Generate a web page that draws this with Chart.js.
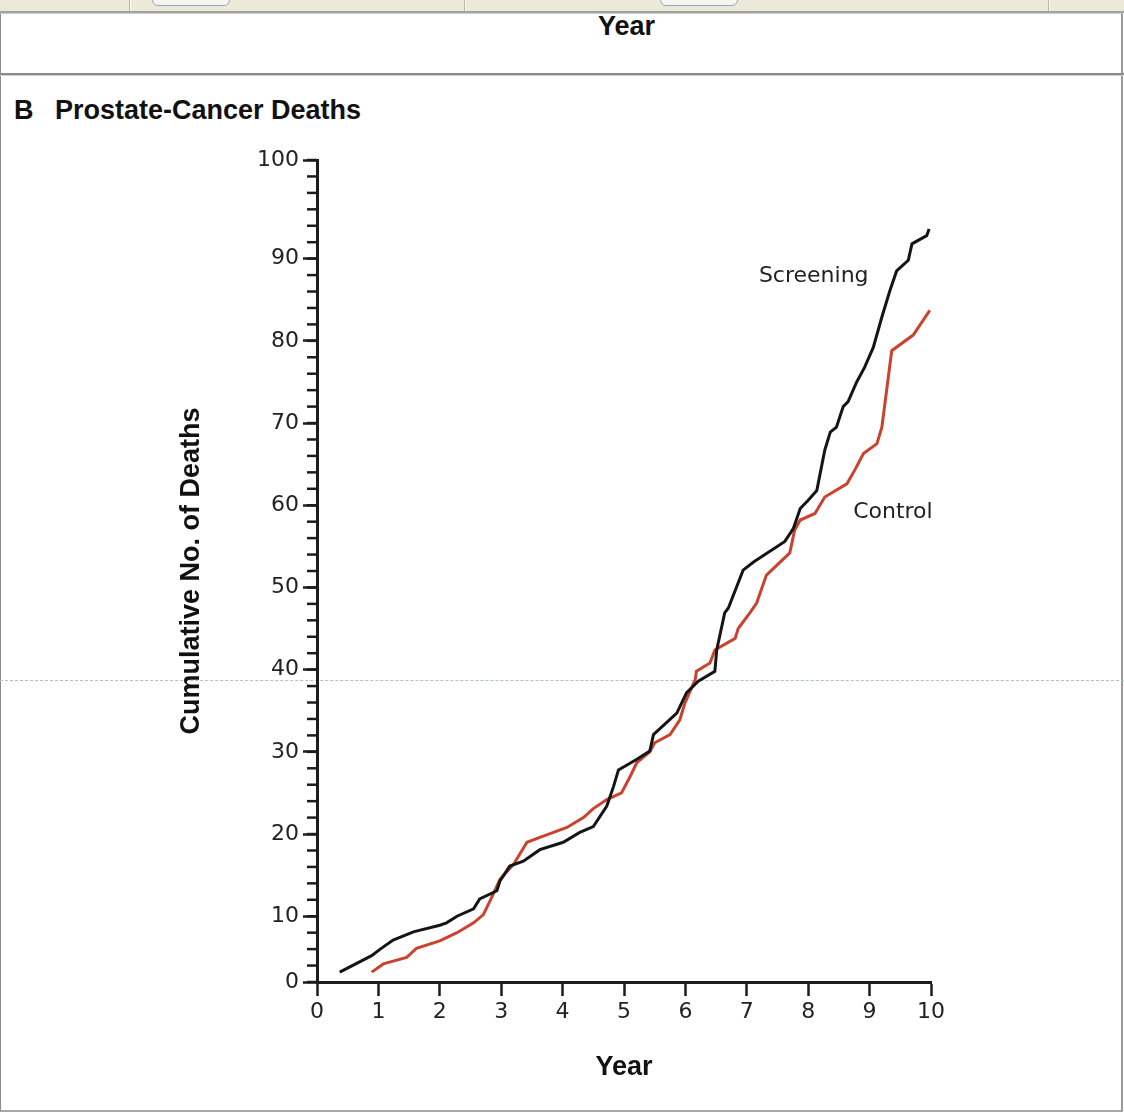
<!DOCTYPE html>
<html>
<head>
<meta charset="utf-8">
<script src="https://cdn.jsdelivr.net/npm/chart.js@4.4.0/dist/chart.umd.min.js"></script>
<style>
  html, body { margin: 0; padding: 0; background: #fff; }
  body { width: 1124px; height: 1113px; position: relative; overflow: hidden; font-family: "Liberation Sans", Arial, sans-serif; }
  .toolbar { position: absolute; left: 0; top: 0; width: 1124px; height: 11px; background: #ece9d8; border-bottom: 2px solid #a3a29c; }
  .toolbar .sep { position: absolute; top: 0; width: 1px; height: 11px; background: #b9b6a6; border-right: 1px solid #fbfaf4; }
  .toolbar .btn { position: absolute; top: -12px; width: 76px; height: 16px; border: 1px solid #90a8c8; border-radius: 6px; background: #f6f5f0; }
  .frame { position: absolute; left: 0; top: 13px; width: 1120px; height: 1096px; border-left: 1px solid #8c8c8c; border-right: 2px solid #9a9a9a; border-bottom: 2px solid #a6a6a6; border-top: 1px solid #cfcfcf; }
  .rule { position: absolute; left: 0; top: 73px; width: 1124px; height: 2px; background: #8a8a8a; border-bottom: 1px solid #d0d0d0; }
  .scanline { position: absolute; left: 0; top: 680px; width: 1124px; border-top: 1px dashed #a9bfe2; }
  .bold { position: absolute; font-weight: bold; font-size: 27px; line-height: 27px; color: #111; white-space: nowrap; }
  #wrap { position: absolute; left: 2px; top: 80px; }
</style>
</head>
<body>
<div class="toolbar">
  <div class="sep" style="left:129px"></div>
  <div class="sep" style="left:464px"></div>
  <div class="sep" style="left:1048px"></div>
  <div class="btn" style="left:152px"></div>
  <div class="btn" style="left:660px"></div>
</div>
<div class="frame"></div>
<div class="bold" style="left:598px; top:13px;">Year</div>
<div class="rule"></div>
<div class="bold" style="left:14px; top:97px;">B</div>
<div class="bold" style="left:55px; top:97px;">Prostate-Cancer Deaths</div>
<div class="scanline"></div>
<div id="wrap"><canvas id="deathsChart" width="1118" height="1028"></canvas></div>
<script>
// Cumulative prostate-cancer deaths
const screeningYears = [0.37, 0.89, 1.03, 1.24, 1.57, 2.0, 2.11, 2.28, 2.55, 2.65, 2.93, 2.98, 3.14, 3.36, 3.63, 4.01, 4.28, 4.5, 4.72, 4.83, 4.91, 5.21, 5.42, 5.45, 5.48, 5.86, 6.02, 6.21, 6.48, 6.51, 6.64, 6.70, 6.94, 7.11, 7.62, 7.76, 7.87, 8.0, 8.14, 8.27, 8.36, 8.46, 8.57, 8.65, 8.79, 8.92, 9.06, 9.2, 9.33, 9.44, 9.63, 9.69, 9.93, 9.97];
const screeningDeaths = [3.2, 5.2, 6.0, 7.1, 8.1, 8.9, 9.2, 10.0, 10.9, 12.1, 13.1, 14.3, 16.1, 16.7, 18.1, 19.0, 20.2, 20.9, 23.4, 25.8, 27.8, 29.1, 30.1, 31.1, 32.1, 34.7, 37.2, 38.6, 39.8, 42.4, 46.9, 47.5, 52.1, 53.1, 55.6, 57.2, 59.6, 60.6, 61.8, 66.7, 68.9, 69.5, 72.0, 72.6, 75.0, 76.8, 79.2, 82.9, 86.1, 88.5, 89.8, 91.8, 92.8, 93.6];

const controlYears = [0.89, 1.08, 1.46, 1.62, 2.0, 2.28, 2.55, 2.71, 2.82, 2.98, 3.2, 3.42, 3.63, 4.07, 4.34, 4.5, 4.72, 4.96, 5.1, 5.21, 5.42, 5.5, 5.75, 5.91, 5.99, 6.16, 6.18, 6.40, 6.48, 6.81, 6.86, 7.05, 7.16, 7.32, 7.70, 7.78, 7.87, 8.11, 8.27, 8.63, 8.76, 8.9, 9.12, 9.2, 9.36, 9.71, 9.98];
const controlDeaths = [3.2, 4.2, 5.0, 6.1, 7.0, 8.0, 9.2, 10.2, 11.9, 14.5, 16.3, 19.0, 19.6, 20.8, 22.0, 23.1, 24.2, 25.0, 27.0, 28.7, 30.0, 31.1, 32.1, 33.9, 35.9, 38.8, 39.8, 40.8, 42.4, 43.8, 45.0, 46.9, 48.1, 51.5, 54.2, 57.0, 58.2, 59.0, 61.0, 62.6, 64.3, 66.3, 67.5, 69.5, 78.8, 80.7, 83.7];

const seriesNames = ['Screening', 'Control'];

// axes: the printed figure puts its "0" and "100" one minor step beyond 10 and 90
const xTicks = [0, 1, 2, 3, 4, 5, 6, 7, 8, 9, 10];
const yTicks = [2, 10, 20, 30, 40, 50, 60, 70, 80, 90, 102];
const yTickLabels = ['0', '10', '20', '30', '40', '50', '60', '70', '80', '90', '100'];
const yMin = 2, yMax = 102, yMinorStep = 2;

// where the series names sit, in data units
const nameAt = [{x: 8.09, y: 87.9}, {x: 9.38, y: 59.2}];

const inkColor = '#1c1c1c';
const lineColors = ['#151515', '#c9432f'];
const tickFont = {family: '"DejaVu Sans", sans-serif', size: 22};
const titleFont = {family: '"Liberation Sans", Arial, sans-serif', size: 27, weight: 'bold'};

const toPoints = (xs, ys) => xs.map((x, i) => ({x: x, y: ys[i]}));

const minorTicks = {
    id: 'minorTicks',
    afterDraw(chart) {
        const {ctx, chartArea, scales} = chart;
        ctx.save();
        ctx.strokeStyle = inkColor;
        ctx.lineWidth = 2.5;
        for (let v = yMin; v <= yMax + 0.001; v += yMinorStep) {
            const py = scales.y.getPixelForValue(v);
            ctx.beginPath();
            ctx.moveTo(chartArea.left - 10, py);
            ctx.lineTo(chartArea.left, py);
            ctx.stroke();
        }
        ctx.restore();
    }
};

const seriesLabels = {
    id: 'seriesLabels',
    afterDatasetsDraw(chart) {
        const {ctx, scales} = chart;
        ctx.save();
        ctx.font = '22px "DejaVu Sans", sans-serif';
        ctx.fillStyle = '#222';
        ctx.textAlign = 'center';
        ctx.textBaseline = 'middle';
        seriesNames.forEach((name, i) => {
            ctx.fillText(name, scales.x.getPixelForValue(nameAt[i].x), scales.y.getPixelForValue(nameAt[i].y));
        });
        ctx.restore();
    }
};

const ctx = document.getElementById('deathsChart').getContext('2d');
let deathsChart = new Chart(ctx, {
    type: 'line',
    data: {
        datasets: [
            {
                label: seriesNames[0],
                data: toPoints(screeningYears, screeningDeaths),
                borderColor: lineColors[0],
                borderWidth: 3,
                pointRadius: 0,
                tension: 0
            },
            {
                label: seriesNames[1],
                data: toPoints(controlYears, controlDeaths),
                borderColor: lineColors[1],
                borderWidth: 3,
                pointRadius: 0,
                tension: 0
            }
        ]
    },
    options: {
        responsive: false,
        animation: false,
        layout: {padding: {left: 0, top: 80, right: 189, bottom: 0}},
        plugins: {legend: {display: false}, tooltip: {enabled: false}},
        scales: {
            x: {
                type: 'linear',
                min: 0,
                max: 10,
                afterBuildTicks: s => { s.ticks = xTicks.map(v => ({value: v})); },
                afterFit: s => { s.height = 126; },
                border: {display: true, color: inkColor, width: 3},
                grid: {drawOnChartArea: false, drawTicks: true, tickLength: 14, tickColor: inkColor, tickWidth: 2.5},
                ticks: {color: '#222', font: tickFont, padding: 3, maxRotation: 0},
                title: {display: true, text: 'Year', color: '#111', font: titleFont, padding: {top: 0, bottom: 24}}
            },
            y: {
                type: 'linear',
                min: yMin,
                max: yMax,
                afterBuildTicks: s => { s.ticks = yTicks.map(v => ({value: v})); },
                afterFit: s => { s.width = 315; },
                border: {display: true, color: inkColor, width: 3},
                grid: {drawOnChartArea: false, drawTicks: true, tickLength: 14, tickColor: inkColor, tickWidth: 2.5},
                ticks: {color: '#222', font: tickFont, padding: 4, callback: (v, i) => yTickLabels[i]},
                title: {display: true, text: 'Cumulative No. of Deaths', color: '#111', font: titleFont, padding: {top: 173, bottom: 0}}
            }
        }
    },
    plugins: [minorTicks, seriesLabels]
});
</script>
</body>
</html>
